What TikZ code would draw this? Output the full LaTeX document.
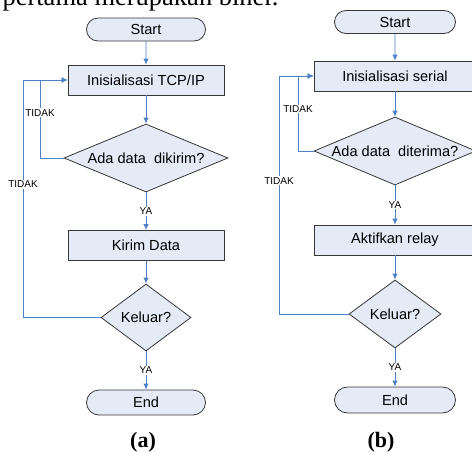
\documentclass[tikz,border=0pt]{standalone}
\usepackage{fontspec}
\setmainfont{Liberation Serif}[BoldFont={Liberation Serif Bold}]
\setsansfont{Liberation Sans}
\newfontfamily\capfont{Liberation Serif}
\usetikzlibrary{arrows.meta,shapes.geometric,shapes.misc}

\definecolor{boxfill}{RGB}{228,234,246}
\definecolor{boxline}{RGB}{55,55,55}
\definecolor{flowline}{RGB}{79,129,199}

\begin{document}
\begin{tikzpicture}[x=1pt,y=-1pt,->,>={Latex[length=6pt,width=5.5pt]},
  every edge/.style={draw=flowline,line width=0.9pt},
  flow/.style={draw=flowline,line width=0.9pt},
  term node/.style={rounded rectangle,draw=boxline,fill=boxfill,line width=0.8pt,
    inner sep=0pt,minimum width=119pt,minimum height=23pt,
    font=\sffamily\fontsize{14.6}{16}\selectfont},
  proc node/.style={rectangle,draw=boxline,fill=boxfill,line width=0.8pt,
    inner sep=0pt,minimum width=156pt,minimum height=30pt,
    font=\sffamily\fontsize{14.6}{16}\selectfont},
  dec node/.style={diamond,aspect=2.4,draw=boxline,fill=boxfill,line width=0.8pt,
    inner xsep=-4pt,inner ysep=-2pt,
    font=\sffamily\fontsize{14.6}{16}\selectfont},
  lbl/.style={fill=white,inner sep=1pt,font=\sffamily\fontsize{10}{11}\selectfont}]

  \useasboundingbox (0,0) rectangle (472,453);
  \clip (0,0) rectangle (472,453);

  \node[anchor=base west,font=\capfont\fontsize{26.5}{30}\selectfont] (toptext) at (-1,5) {pertama merupakan biner.};

  % (a)
  \node[term node] (start_a) at (146,29.5) {Start};
  \node[proc node] (init_a) at (146,80) {Inisialisasi TCP/IP};
  \node[dec node,minimum width=164pt,minimum height=68pt] (ada_a) at (146,158) {Ada data\ \ dikirim?};
  \node[proc node] (kirim_a) at (146,245.5) {Kirim Data};
  \node[dec node,minimum width=90pt,minimum height=67pt] (keluar_a) at (146,317.5) {Keluar?};
  \node[term node,minimum height=25pt] (end_a) at (146,402.5) {End};
  \coordinate (loop_a1) at (40,80);
  \coordinate (loop_a2) at (23,80);

  % (b)
  \node[term node,minimum width=121pt] (start_b) at (395,22) {Start};
  \node[proc node,minimum width=162pt] (init_b) at (395,76) {Inisialisasi serial};
  \node[dec node,minimum width=162pt,minimum height=68pt] (ada_b) at (395,151) {Ada data\ \ diterima?};
  \node[proc node,minimum width=162pt] (aktif_b) at (395,240) {Aktifkan relay};
  \node[dec node,minimum width=92pt,minimum height=68pt] (keluar_b) at (395,314) {Keluar?};
  \node[term node,minimum width=121pt,minimum height=26pt] (end_b) at (395,400) {End};
  \coordinate (loop_b1) at (298,76);
  \coordinate (loop_b2) at (279,76);

  \path
    (start_a) edge (init_a)
    (init_a) edge (ada_a)
    (ada_a) edge node[lbl] {YA} (kirim_a)
    (kirim_a) edge (keluar_a)
    (keluar_a) edge node[lbl] {YA} (end_a)
    (start_b) edge (init_b)
    (init_b) edge (ada_b)
    (ada_b) edge node[lbl] {YA} (aktif_b)
    (aktif_b) edge (keluar_b)
    (keluar_b) edge node[lbl] {YA} (end_b);

  \draw[flow] (ada_a.west) -| node[lbl,pos=0.79] {TIDAK} (loop_a1) -- (init_a.west);
  \draw[flow] (keluar_a.west) -| node[lbl,pos=0.78] {TIDAK} (loop_a2) -- (init_a.west);
  \draw[flow] (ada_b.west) -| node[lbl,pos=0.78] {TIDAK} (loop_b1) -- (init_b.west);
  \draw[flow] (keluar_b.west) -| node[lbl,pos=0.78] {TIDAK} (loop_b2) -- (init_b.west);

  \node[anchor=base,font=\capfont\bfseries\fontsize{22}{26}\selectfont] (cap_a) at (143,447) {(a)};
  \node[anchor=base,font=\capfont\bfseries\fontsize{22}{26}\selectfont] (cap_b) at (381,447) {(b)};
\end{tikzpicture}
\end{document}
